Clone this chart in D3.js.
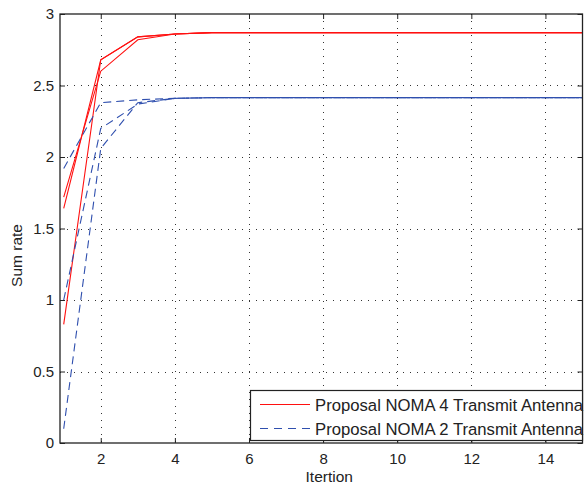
<!DOCTYPE html>
<html>
<head>
<meta charset="utf-8">
<script src="https://cdn.jsdelivr.net/npm/d3@7"></script>
<style>
  html, body { margin: 0; padding: 0; background: #fff; }
  svg { display: block; }
  text { font-family: "Liberation Sans", Arial, Helvetica, sans-serif; fill: #222; }
</style>
</head>
<body>
<svg id="chart" width="584" height="486"></svg>
<script>
// ---- data ----
const iterations = [1, 2, 3, 4, 5, 6, 7, 8, 9, 10, 11, 12, 13, 14, 15];
const noma4a = [1.72, 2.60, 2.82, 2.86, 2.87, 2.87, 2.87, 2.87, 2.87, 2.87, 2.87, 2.87, 2.87, 2.87, 2.87];
const noma4b = [1.64, 2.68, 2.84, 2.86, 2.87, 2.87, 2.87, 2.87, 2.87, 2.87, 2.87, 2.87, 2.87, 2.87, 2.87];
const noma4c = [0.83, 2.68, 2.84, 2.86, 2.87, 2.87, 2.87, 2.87, 2.87, 2.87, 2.87, 2.87, 2.87, 2.87, 2.87];
const noma2a = [1.92, 2.38, 2.40, 2.41, 2.415, 2.415, 2.415, 2.415, 2.415, 2.415, 2.415, 2.415, 2.415, 2.415, 2.415];
const noma2b = [1.00, 2.20, 2.37, 2.41, 2.415, 2.415, 2.415, 2.415, 2.415, 2.415, 2.415, 2.415, 2.415, 2.415, 2.415];
const noma2c = [0.10, 2.06, 2.38, 2.41, 2.415, 2.415, 2.415, 2.415, 2.415, 2.415, 2.415, 2.415, 2.415, 2.415, 2.415];
const xTicks = [2, 4, 6, 8, 10, 12, 14];
const yTicks = [0, 0.5, 1, 1.5, 2, 2.5, 3];
const legendLabels = ["Proposal NOMA 4 Transmit Antenna", "Proposal NOMA 2 Transmit Antenna"];
const xTitle = "Itertion";
const yTitle = "Sum rate";

// ---- layout ----
const L = 60, R = 582.5, T = 14, B = 443;
const svg = d3.select("#chart");
const x = d3.scaleLinear().domain([0.9, 15]).range([L, R]);
const y = d3.scaleLinear().domain([0, 3]).range([B, T]);

const redColor = "#ff1010";
const blueColor = "#2f4fae";

// grid
const grid = svg.append("g");
grid.selectAll("line.gx").data(xTicks).join("line")
  .attr("x1", d => Math.round(x(d)) + 0.5).attr("x2", d => Math.round(x(d)) + 0.5)
  .attr("y1", T).attr("y2", B)
  .attr("stroke", "#333").attr("stroke-width", 1).attr("stroke-dasharray", "1,6");
grid.selectAll("line.gy").data(yTicks.filter(d => d > 0 && d < 3)).join("line")
  .attr("y1", d => Math.round(y(d)) + 0.5).attr("y2", d => Math.round(y(d)) + 0.5)
  .attr("x1", L).attr("x2", R)
  .attr("stroke", "#333").attr("stroke-width", 1).attr("stroke-dasharray", "1,6");

// lines
const line = d3.line().x((d, i) => x(iterations[i])).y(d => y(d));
const series = [
  { v: noma4a, c: redColor, dash: null },
  { v: noma4b, c: redColor, dash: null },
  { v: noma4c, c: redColor, dash: null },
  { v: noma2a, c: blueColor, dash: "8,5" },
  { v: noma2b, c: blueColor, dash: "8,5" },
  { v: noma2c, c: blueColor, dash: "8,5" }
];
svg.append("g").selectAll("path").data(series).join("path")
  .attr("d", d => line(d.v))
  .attr("fill", "none")
  .attr("stroke", d => d.c)
  .attr("stroke-width", 1.1)
  .attr("stroke-dasharray", d => d.dash);

// axes (ticks inward)
const fontSize = 15;
const axB = svg.append("g").attr("transform", `translate(0,${B})`)
  .call(d3.axisBottom(x).tickValues(xTicks).tickSizeInner(-5).tickSizeOuter(0).tickPadding(10));
const axL = svg.append("g").attr("transform", `translate(${L},0)`)
  .call(d3.axisLeft(y).tickValues(yTicks).tickFormat(d3.format("")).tickSizeInner(-5).tickSizeOuter(0).tickPadding(6));
const axT = svg.append("g").attr("transform", `translate(0,${T})`)
  .call(d3.axisTop(x).tickValues(xTicks).tickSizeInner(-5).tickSizeOuter(0).tickFormat(""));
const axR = svg.append("g").attr("transform", `translate(${R},0)`)
  .call(d3.axisRight(y).tickValues(yTicks).tickSizeInner(-5).tickSizeOuter(0).tickFormat(""));
[axB, axL, axT, axR].forEach(a => {
  a.select(".domain").remove();
  a.selectAll(".tick line").attr("stroke", "#222");
  a.selectAll("text").attr("font-size", fontSize).attr("fill", "#222")
    .style("font-family", "'Liberation Sans', Arial, sans-serif");
});
axL.selectAll("text").attr("x", -6);

// frame
svg.append("rect").attr("x", L).attr("y", T).attr("width", R - L).attr("height", B - T)
  .attr("fill", "none").attr("stroke", "#222").attr("stroke-width", 1.3);

// axis titles
svg.append("text").attr("x", (L + R) / 2 + 8).attr("y", 482).attr("text-anchor", "middle")
  .attr("font-size", 15.5).text(xTitle);
svg.append("text").attr("transform", `translate(22,${(T + B) / 2 + 27}) rotate(-90)`)
  .attr("text-anchor", "middle").attr("font-size", 15.5).text(yTitle);

// legend
const lg = svg.append("g");
lg.append("rect").attr("x", 250.5).attr("y", 390.5).attr("width", 332).attr("height", 50)
  .attr("fill", "#fff").attr("stroke", "#222").attr("stroke-width", 1.2);
const legendItems = [
  { label: legendLabels[0], c: redColor, dash: null, yy: 404.5 },
  { label: legendLabels[1], c: blueColor, dash: "8,6", yy: 428.5 }
];
legendItems.forEach(it => {
  lg.append("line").attr("x1", 260).attr("x2", 310).attr("y1", it.yy).attr("y2", it.yy)
    .attr("stroke", it.c).attr("stroke-width", 1.1).attr("stroke-dasharray", it.dash);
  lg.append("text").attr("x", 315).attr("y", it.yy + 6).attr("font-size", 16.7).text(it.label);
});
</script>
</body>
</html>
